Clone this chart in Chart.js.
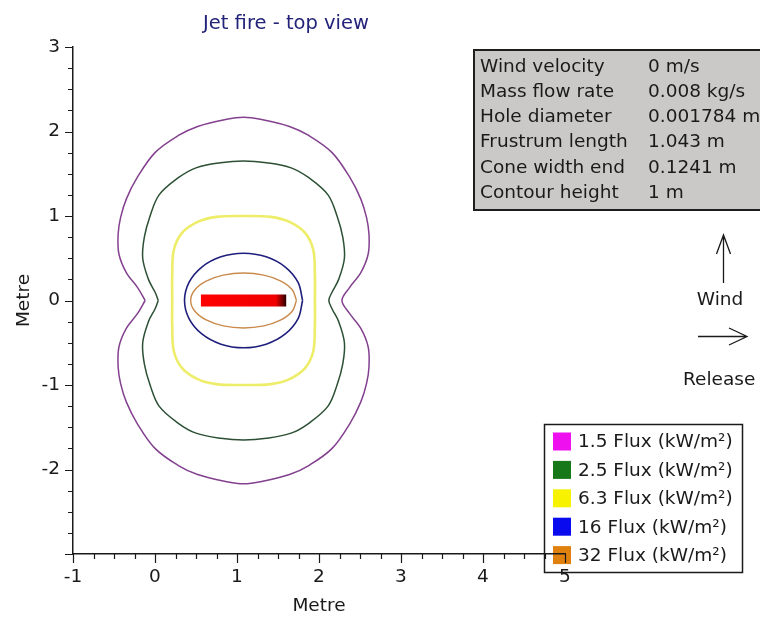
<!DOCTYPE html>
<html>
<head>
<meta charset="utf-8">
<title>Jet fire - top view</title>
<script src="https://cdn.jsdelivr.net/npm/chart.js@4.4.1/dist/chart.umd.min.js"></script>
<style>
  html, body { margin: 0; padding: 0; background: #ffffff; }
  #wrap { position: relative; width: 760px; height: 619px; }
  canvas { display: block; }
</style>
</head>
<body>
<div id="wrap"><canvas id="chart" width="760" height="619"></canvas></div>
<script>
// Heat-flux contour levels (kW/m²)
const fluxLevels = ['1.5', '2.5', '6.3', '16', '32'];

// Contour outlines, metres (x = along release, y = crosswind)
const flux15X = [-0.12, -0.21, -0.35, -0.44, -0.45, -0.42, -0.35, -0.22, 0.00, 0.28, 0.52, 0.85, 1.08, 1.31, 1.64, 1.88, 2.16, 2.38, 2.51, 2.58, 2.61, 2.60, 2.51, 2.37, 2.28, 2.37, 2.51, 2.60, 2.61, 2.58, 2.51, 2.38, 2.16, 1.88, 1.64, 1.31, 1.08, 0.85, 0.52, 0.28, 0.00, -0.22, -0.35, -0.42, -0.45, -0.44, -0.35, -0.21, -0.12];
const flux15Y = [0, 0.15, 0.33, 0.55, 0.78, 0.98, 1.20, 1.45, 1.75, 1.95, 2.06, 2.14, 2.17, 2.14, 2.06, 1.95, 1.75, 1.45, 1.20, 0.98, 0.78, 0.55, 0.33, 0.15, 0, -0.15, -0.33, -0.55, -0.78, -0.98, -1.20, -1.45, -1.75, -1.95, -2.06, -2.14, -2.17, -2.14, -2.06, -1.95, -1.75, -1.45, -1.20, -0.98, -0.78, -0.55, -0.33, -0.15, 0];

const flux25X = [0.04, 0.00, -0.08, -0.15, -0.13, -0.06, 0.05, 0.28, 0.50, 0.80, 1.08, 1.36, 1.66, 1.88, 2.11, 2.22, 2.29, 2.31, 2.24, 2.16, 2.12, 2.16, 2.24, 2.31, 2.29, 2.22, 2.11, 1.88, 1.66, 1.36, 1.08, 0.80, 0.50, 0.28, 0.05, -0.06, -0.13, -0.15, -0.08, 0.00, 0.04];
const flux25Y = [0, 0.10, 0.25, 0.50, 0.75, 1.00, 1.25, 1.45, 1.57, 1.63, 1.65, 1.63, 1.57, 1.45, 1.25, 1.00, 0.75, 0.50, 0.25, 0.10, 0, -0.10, -0.25, -0.50, -0.75, -1.00, -1.25, -1.45, -1.57, -1.63, -1.65, -1.63, -1.57, -1.45, -1.25, -1.00, -0.75, -0.50, -0.25, -0.10, 0];

const flux63X = [0.21, 0.21, 0.23, 0.33, 0.52, 0.75, 1.08, 1.41, 1.64, 1.83, 1.93, 1.95, 1.95, 1.95, 1.93, 1.83, 1.64, 1.41, 1.08, 0.75, 0.52, 0.33, 0.23, 0.21, 0.21];
const flux63Y = [0, 0.30, 0.60, 0.80, 0.93, 0.99, 1.00, 0.99, 0.93, 0.80, 0.60, 0.30, 0, -0.30, -0.60, -0.80, -0.93, -0.99, -1.00, -0.99, -0.93, -0.80, -0.60, -0.30, 0];

const flux16X = [1.80, 1.745, 1.589, 1.356, 1.08, 0.804, 0.571, 0.415, 0.36, 0.415, 0.571, 0.804, 1.08, 1.356, 1.589, 1.745, 1.80];
const flux16Y = [0, 0.214, 0.396, 0.517, 0.56, 0.517, 0.396, 0.214, 0, -0.214, -0.396, -0.517, -0.56, -0.517, -0.396, -0.214, 0];

const flux32X = [1.725, 1.676, 1.536, 1.327, 1.08, 0.833, 0.624, 0.484, 0.435, 0.484, 0.624, 0.833, 1.08, 1.327, 1.536, 1.676, 1.725];
const flux32Y = [0, 0.124, 0.230, 0.300, 0.325, 0.300, 0.230, 0.124, 0, -0.124, -0.230, -0.300, -0.325, -0.300, -0.230, -0.124, 0];

// Flame frustum on the release axis (start, end), metres
const frustumX = [0.56, 1.60];
const frustumY = [0, 0];

// Scenario parameters
const infoLabels = ['Wind velocity', 'Mass flow rate', 'Hole diameter', 'Frustrum length', 'Cone width end', 'Contour height'];
const infoValues = ['0 m/s', '0.008 kg/s', '0.001784 m', '1.043 m', '0.1241 m', '1 m'];

// Axis ranges, tick step and labelled ticks
const xRange = [-1, 5];
const yRange = [-3, 3];
const tickStep = 0.25;
const xTickLabels = [-1, 0, 1, 2, 3, 4, 5];
const yTickLabels = [-2, -1, 0, 1, 2, 3];

// Styling
const FONT = '"DejaVu Sans", Verdana, sans-serif';
const lineColors = ['#83408f', '#2c5034', '#eded6a', '#1e1e7c', '#c98a4c'];
const lineWidths = [1.5, 1.5, 2.6, 1.6, 1.4];
const swatchColors = ['#ee10ee', '#17781a', '#f6f200', '#0a0aee', '#e0800e'];

const contours = [
  [flux15X, flux15Y], [flux25X, flux25Y], [flux63X, flux63Y], [flux16X, flux16Y], [flux32X, flux32Y]
];
const toPoints = (xs, ys) => xs.map((x, i) => ({ x: x, y: ys[i] }));

const isMajor = v => Math.abs(v - Math.round(v)) < 1e-6;

const contourSets = contours.map((c, i) => ({
  label: fluxLevels[i] + ' Flux (kW/m²)',
  data: toPoints(c[0], c[1]),
  showLine: true,
  fill: false,
  borderColor: lineColors[i],
  borderWidth: lineWidths[i],
  tension: 0.35,
  pointRadius: 0,
  order: 10 - i
}));

const frustumSet = {
  label: 'Frustum',
  data: toPoints(frustumX, frustumY),
  showLine: true,
  fill: false,
  borderWidth: 12,
  borderCapStyle: 'butt',
  pointRadius: 0,
  order: 0,
  borderColor: (ctx) => {
    const chart = ctx.chart;
    if (!chart.chartArea) return '#ff0000';
    const sx = chart.scales.x;
    const x0 = sx.getPixelForValue(frustumX[0]);
    const x1 = sx.getPixelForValue(frustumX[1]);
    const g = chart.ctx.createLinearGradient(x0, 0, x1, 0);
    g.addColorStop(0, '#ff0000');
    g.addColorStop(0.88, '#f00000');
    g.addColorStop(1, '#2a0000');
    return g;
  }
};

// Key box (drawn beneath the axes so the x axis runs across it)
const keyBox = {
  id: 'keyBox',
  beforeDraw(chart) {
    const ctx = chart.ctx;
    ctx.save();
    const left = 544, top = 424, w = 198, h = 148;
    ctx.fillStyle = '#ffffff';
    ctx.fillRect(left, top, w, h);
    ctx.strokeStyle = '#1a1a1a';
    ctx.lineWidth = 1.5;
    ctx.strokeRect(left + 0.5, top + 0.5, w, h);
    ctx.font = '18.5px ' + FONT;
    ctx.textBaseline = 'middle';
    ctx.textAlign = 'left';
    contourSets.forEach((ds, i) => {
      const cy = 441.5 + i * 28.4;
      ctx.fillStyle = swatchColors[i];
      ctx.fillRect(553, cy - 9, 18, 18);
      ctx.fillStyle = '#1a1a1a';
      ctx.fillText(ds.label, 578, cy + 1);
    });
    ctx.restore();
  }
};

// Title, parameter panel, direction arrows and axis tick marks
const annotations = {
  id: 'annotations',
  afterDraw(chart) {
    const ctx = chart.ctx;
    ctx.save();
    // title
    ctx.font = '19.5px ' + FONT;
    ctx.fillStyle = '#23237a';
    ctx.textAlign = 'center';
    ctx.textBaseline = 'middle';
    ctx.fillText('Jet fire - top view', 286, 24);

    // parameter panel
    ctx.fillStyle = '#cac9c8';
    ctx.fillRect(474, 50, 300, 160);
    ctx.strokeStyle = '#1e1e1e';
    ctx.lineWidth = 2;
    ctx.strokeRect(474, 50, 300, 160);
    ctx.font = '18.5px ' + FONT;
    ctx.fillStyle = '#1a1a1a';
    ctx.textAlign = 'left';
    infoLabels.forEach((lab, i) => {
      const cy = 67 + i * 25.2;
      ctx.fillText(lab, 480, cy);
      ctx.fillText(infoValues[i], 648, cy);
    });

    // wind arrow (up)
    ctx.strokeStyle = '#1a1a1a';
    ctx.lineWidth = 1.3;
    ctx.beginPath();
    ctx.moveTo(723.5, 283); ctx.lineTo(723.5, 235);
    ctx.moveTo(716.5, 254); ctx.lineTo(723.5, 235); ctx.lineTo(730.5, 254);
    // release arrow (right)
    ctx.moveTo(698, 336.5); ctx.lineTo(747, 336.5);
    ctx.moveTo(729, 328); ctx.lineTo(747, 336.5); ctx.lineTo(729, 345);
    ctx.stroke();
    ctx.fillStyle = '#1a1a1a';
    ctx.textAlign = 'center';
    ctx.fillText('Wind', 720, 300);
    ctx.textAlign = 'left';
    ctx.fillText('Release', 683, 380);

    // tick marks, major and minor (all pointing outwards)
    const { x, y } = chart.scales;
    const a = chart.chartArea;
    ctx.strokeStyle = '#1a1a1a';
    ctx.lineWidth = 1.2;
    ctx.beginPath();
    y.ticks.forEach(t => {
      const p = Math.round(y.getPixelForValue(t.value)) + 0.5;
      ctx.moveTo(a.left - (isMajor(t.value) ? 8 : 5), p);
      ctx.lineTo(a.left, p);
    });
    x.ticks.forEach(t => {
      const p = Math.round(x.getPixelForValue(t.value)) + 0.5;
      ctx.moveTo(p, a.bottom);
      ctx.lineTo(p, a.bottom + (isMajor(t.value) ? 9 : 5));
    });
    ctx.stroke();
    ctx.restore();
  }
};

const axisCommon = (range, shown) => ({
  type: 'linear',
  min: range[0],
  max: range[1],
  grid: { display: false, drawTicks: false },
  border: { display: true, color: '#1a1a1a', width: 1.5 },
  ticks: {
    stepSize: tickStep,
    autoSkip: false,
    maxRotation: 0,
    minRotation: 0,
    color: '#1a1a1a',
    font: { family: FONT, size: 18.5 },
    callback: v => {
      const r = Math.round(v);
      return isMajor(v) && shown.includes(r) ? String(r) : '';
    }
  },
  title: {
    display: true,
    text: 'Metre',
    color: '#1a1a1a',
    font: { family: FONT, size: 18.5 }
  }
});

const xAxis = axisCommon(xRange, xTickLabels);
xAxis.position = 'bottom';
xAxis.ticks.padding = 12;
xAxis.title.padding = { top: 0, bottom: 2 };
xAxis.afterFit = s => { s.height = 65; };

const yAxis = axisCommon(yRange, yTickLabels);
yAxis.position = 'left';
yAxis.ticks.padding = 13;
yAxis.title.padding = { top: 13, bottom: 0 };
yAxis.afterFit = s => { s.width = 73; };

new Chart(document.getElementById('chart'), {
  type: 'scatter',
  data: { datasets: [frustumSet].concat(contourSets) },
  options: {
    responsive: false,
    animation: false,
    devicePixelRatio: 1,
    layout: { padding: { top: 47, right: 195, left: 0, bottom: 0 } },
    plugins: { legend: { display: false }, tooltip: { enabled: false }, title: { display: false } },
    scales: { x: xAxis, y: yAxis }
  },
  plugins: [keyBox, annotations]
});
</script>
</body>
</html>
